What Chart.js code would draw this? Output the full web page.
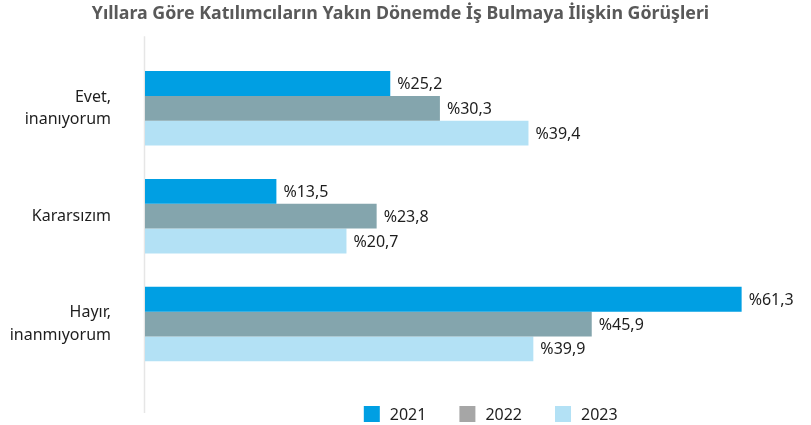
<!DOCTYPE html>
<html>
<head>
<meta charset="utf-8">
<script src="https://cdn.jsdelivr.net/npm/chart.js@4/dist/chart.umd.min.js"></script>
<style>
  html, body { margin: 0; padding: 0; background: #fff; overflow: hidden; }
</style>
</head>
<body>
<canvas id="chart" width="811" height="425"></canvas>
<script>
const categories = [['Evet,', 'inanıyorum'], 'Kararsızım', ['Hayır,', 'inanmıyorum']];
const years = ['2021', '2022', '2023'];
const values2021 = [25.2, 13.5, 61.3];
const values2022 = [30.3, 23.8, 45.9];
const values2023 = [39.4, 20.7, 39.9];

const barColors = ['#009fe3', '#84a5ad', '#b3e1f5'];
const legendColors = ['#009fe3', '#a6a6a6', '#b3e1f5'];
const FONT = '"Noto Sans", sans-serif';

const fmt = (v) => '%' + v.toFixed(1).replace('.', ',');

// value labels at the end of each bar
const valueLabels = {
  id: 'valueLabels',
  afterDatasetsDraw(chart) {
    const ctx = chart.ctx;
    ctx.save();
    ctx.font = '16px ' + FONT;
    ctx.fillStyle = '#1e1e1e';
    ctx.textAlign = 'left';
    ctx.textBaseline = 'middle';
    chart.data.datasets.forEach((ds, i) => {
      chart.getDatasetMeta(i).data.forEach((bar, j) => {
        ctx.fillText(fmt(ds.data[j]), bar.x + 7, bar.y + 1);
      });
    });
    ctx.restore();
  }
};

// long thin axis line on the left of the bars
const axisLine = {
  id: 'axisLine',
  beforeDatasetsDraw(chart) {
    const { ctx, chartArea } = chart;
    ctx.save();
    ctx.strokeStyle = '#e6e6e6';
    ctx.lineWidth = 1.5;
    ctx.beginPath();
    ctx.moveTo(chartArea.left - 0.5, chartArea.top - 18);
    ctx.lineTo(chartArea.left - 0.5, chartArea.bottom + 35);
    ctx.stroke();
    ctx.restore();
  }
};

// legend with square boxes under the plot
const squareLegend = {
  id: 'squareLegend',
  afterDraw(chart) {
    const { ctx, chartArea } = chart;
    const box = 16, gap = 10, itemGap = 33;
    ctx.save();
    ctx.font = '16px ' + FONT;
    ctx.textBaseline = 'middle';
    const widths = years.map(t => box + gap + ctx.measureText(t).width);
    const total = widths.reduce((a, b) => a + b, 0) + itemGap * (years.length - 1);
    const cx = chartArea.left + (chartArea.right - chartArea.left) * 0.527;
    let x = cx - total / 2;
    const y = chartArea.bottom + 36;
    years.forEach((t, i) => {
      ctx.fillStyle = legendColors[i];
      ctx.fillRect(x, y - box / 2, box, box);
      ctx.fillStyle = '#1e1e1e';
      ctx.fillText(t, x + box + gap, y + 1);
      x += widths[i] + itemGap;
    });
    ctx.restore();
  }
};

new Chart(document.getElementById('chart'), {
  type: 'bar',
  data: {
    labels: categories,
    datasets: [
      { label: years[0], data: values2021, backgroundColor: barColors[0] },
      { label: years[1], data: values2022, backgroundColor: barColors[1] },
      { label: years[2], data: values2023, backgroundColor: barColors[2] }
    ]
  },
  options: {
    indexAxis: 'y',
    responsive: false,
    animation: false,
    barPercentage: 1,
    categoryPercentage: 0.69,
    layout: {
      padding: { left: 0, right: 10, top: 0, bottom: 47 }
    },
    plugins: {
      legend: { display: false },
      tooltip: { enabled: false },
      title: {
        display: true,
        text: 'Yıllara Göre Katılımcıların Yakın Dönemde İş Bulmaya İlişkin Görüşleri',
        color: '#595959',
        font: { family: FONT, size: 17.8, weight: 'bold', lineHeight: 1.2 },
        padding: { top: 3, bottom: 30 }
      }
    },
    scales: {
      x: {
        display: false,
        min: 0,
        max: 67.4
      },
      y: {
        afterFit: (s) => {
          s.width = 145;
          s.paddingTop = 0;
          s.paddingBottom = 0;
        },
        grid: { display: false, drawTicks: false },
        border: { display: false },
        ticks: {
          color: '#1e1e1e',
          padding: 34,
          font: { family: FONT, size: 16, lineHeight: 1.4 }
        }
      }
    }
  },
  plugins: [valueLabels, axisLine, squareLegend]
});
</script>
</body>
</html>
